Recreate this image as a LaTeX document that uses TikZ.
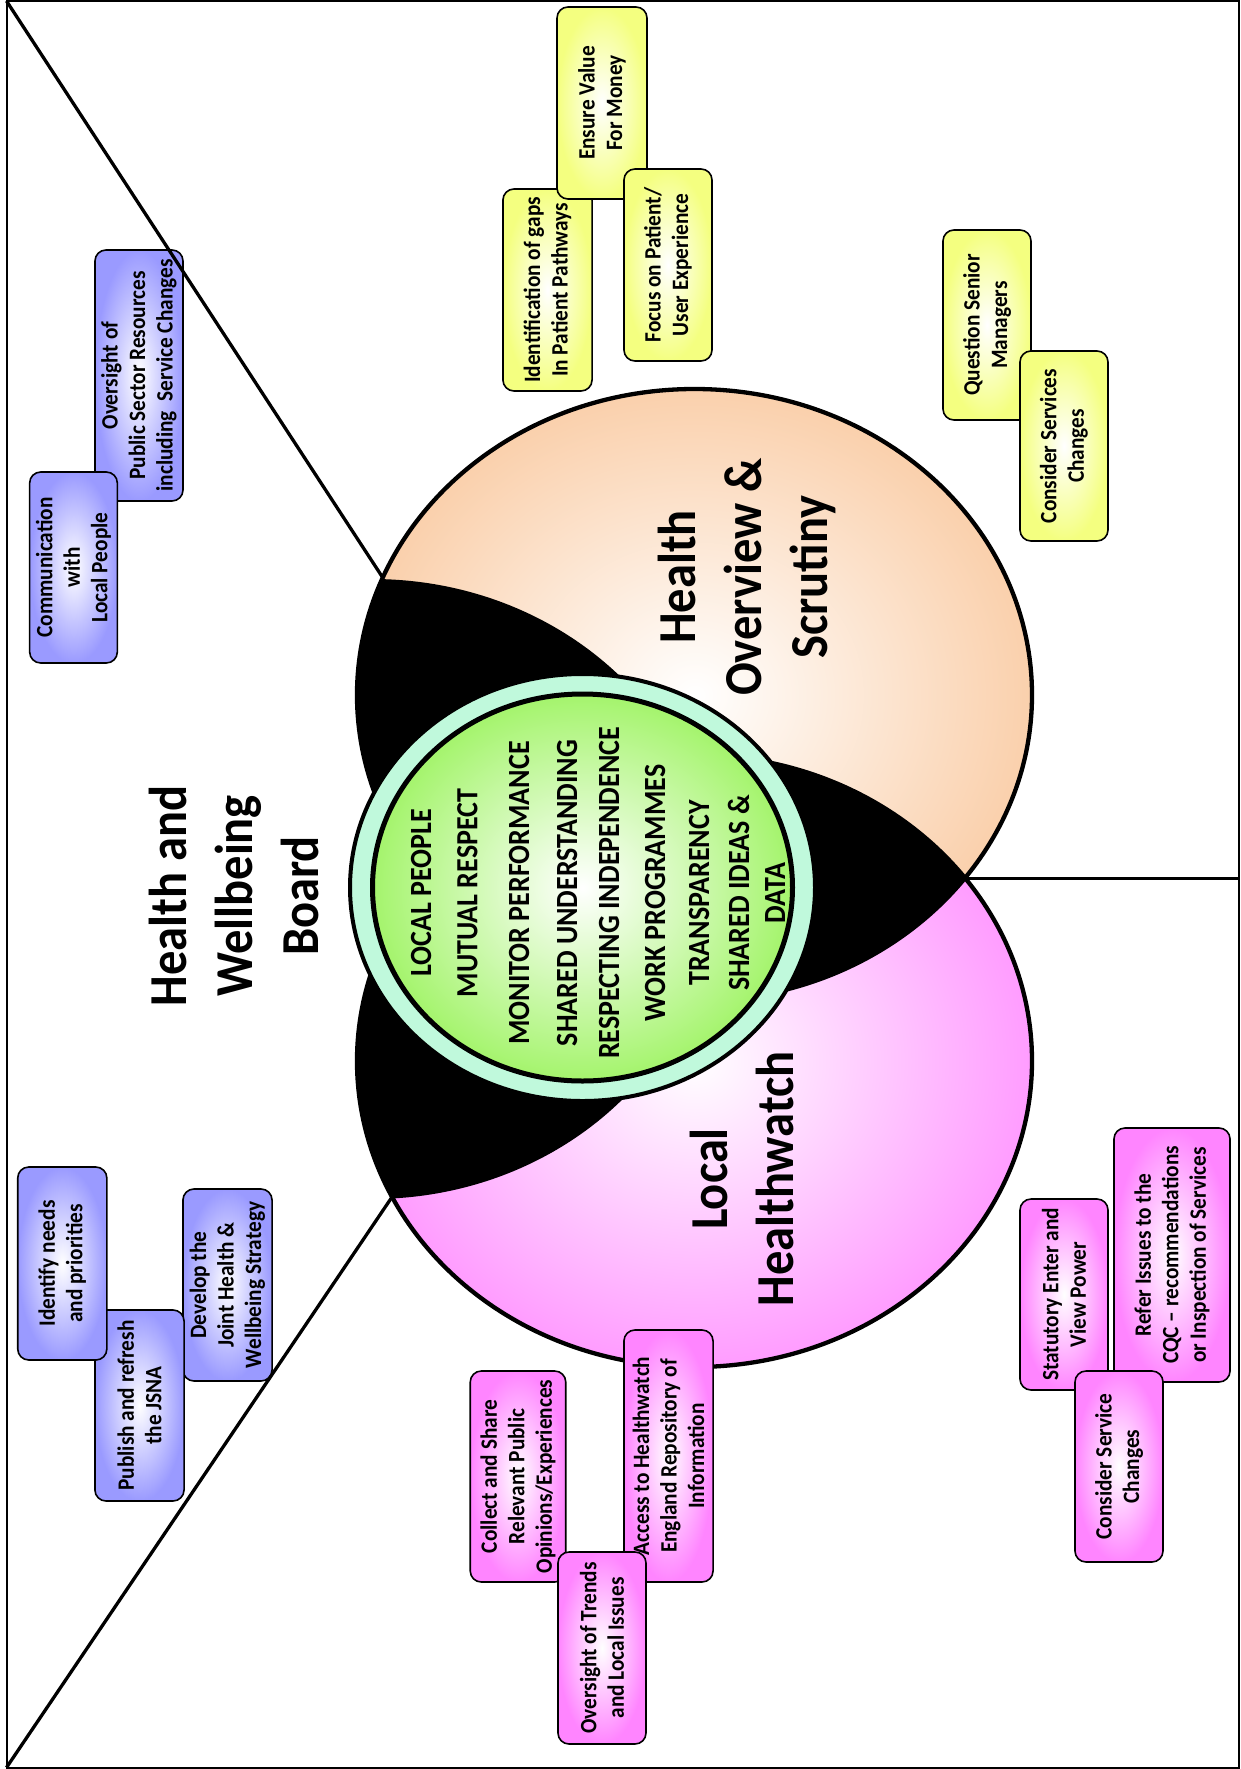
\documentclass[tikz,border=0pt]{standalone}
\usepackage{fontspec}
\setmainfont{Carlito}
\definecolor{peach}{HTML}{FAD0AC}
\definecolor{pinkc}{HTML}{FF9CFF}
\definecolor{mint}{HTML}{C0F9DC}
\definecolor{greenc}{HTML}{A4F46C}
\definecolor{bluebox}{HTML}{9A9AFF}
\definecolor{yellowbox}{HTML}{F4FF80}
\definecolor{pinkbox}{HTML}{FF85FF}
\begin{document}
\begin{tikzpicture}[x=1pt,y=-1pt,
  rot/.style={rotate=90, yscale=1.1, transform shape},
  box/.style={rot, draw=black, line width=1.6pt, rounded corners=11pt, align=center, inner sep=0pt, font=\bfseries\fontsize{21.3}{25}\selectfont},
  bbox/.style={box, inner color=white, outer color=bluebox},
  ybox/.style={box, inner color=white, outer color=yellowbox},
  pbox/.style={box, inner color=white, outer color=pinkbox},
  title/.style={rot, align=center, inner sep=0pt, font=\bfseries\fontsize{48.5}{60}\selectfont},
  coretext/.style={rot, align=center, inner sep=0pt, font=\bfseries\fontsize{28}{41.2}\selectfont},
  ell/.style={x radius=337.5pt, y radius=306pt},
  thick line/.style={line width=3.3pt}
]
\useasboundingbox (0,0) rectangle (1241,1769);
\fill[white] (0,0) rectangle (1241,1769);
% centres and junctions
\coordinate (hosc) at (694.5,695);
\coordinate (lhc) at (694.5,1061);
\coordinate (hwbc) at (372,889);
\coordinate (corec) at (582.5,887.5);
\coordinate (tl) at (6.5,1);
\coordinate (fbr) at (1238.5,1767.5);
\coordinate (bl) at (6.5,1767.5);
\coordinate (tj) at (383,578);
\coordinate (bj) at (392,1197);
\coordinate (rj) at (965,878);
\coordinate (re) at (1238.5,878);
% big circles
\shade[inner color=white, outer color=peach] (hosc) ellipse [ell];
\shade[inner color=white, outer color=pinkc] (lhc) ellipse [ell];
\begin{scope}
  \clip (hwbc) ellipse [x radius=341pt, y radius=310pt];
  \fill[black] (hosc) ellipse [ell] (lhc) ellipse [ell];
\end{scope}
\begin{scope}
  \clip (hosc) ellipse [ell];
  \fill[black] (lhc) ellipse [ell];
\end{scope}
\draw[line width=4.3pt] (hosc) ellipse [ell];
\draw[line width=4.3pt] (lhc) ellipse [ell];
% core circle
\filldraw[fill=mint, line width=4pt] (corec) ellipse [x radius=232.5pt, y radius=213.5pt];
\shadedraw[inner color=white, outer color=greenc, line width=5pt] (corec) ellipse [x radius=210pt, y radius=193.5pt];
% titles
\node[title] (hwb) at (234.3,896) {Health and\\Wellbeing\\Board};
\node[title] (hos) at (746.5,577) {Health\\Overview \&\\Scrutiny};
\node[title] (lhw) at (741.6,1179) {Local\\Healthwatch};
\node[coretext] (core) at (598,893) {LOCAL PEOPLE\\[0.8pt]MUTUAL RESPECT\\[6pt]MONITOR PERFORMANCE\\[2.4pt]SHARED UNDERSTANDING\\[-3pt]RESPECTING INDEPENDENCE\\[0.6pt]WORK PROGRAMMES\\[-1.2pt]TRANSPARENCY\\[-4.8pt]SHARED IDEAS \&\\[-8.6pt]DATA};
% boxes
\node[bbox, minimum width=251pt, minimum height=80pt] (overs) at (139,375.5) {Oversight of\\Public Sector Resources\\including\ \ Service Changes};
\node[bbox, minimum width=191pt, minimum height=79.7pt] (comm) at (73.5,567.5) {Communication\\with\\Local People};
\node[ybox, minimum width=202pt, minimum height=81pt] (gaps) at (547.5,290) {Identification of gaps\\In Patient Pathways};
\node[ybox, minimum width=192pt, minimum height=81.8pt] (value) at (602,103) {Ensure Value\\For Money};
\node[ybox, minimum width=192pt, minimum height=80pt] (focus) at (668,265) {Focus on Patient/\\User Experience};
\node[ybox, minimum width=190pt, minimum height=80pt] (question) at (987,325) {Question Senior\\Managers};
\node[ybox, minimum width=190pt, minimum height=80pt] (conss) at (1064,446) {Consider Services\\Changes};
\node[bbox, minimum width=192pt, minimum height=81pt] (develop) at (227.5,1285) {Develop the\\Joint Health \&\\Wellbeing Strategy};
\node[bbox, minimum width=191pt, minimum height=81pt] (publish) at (139.5,1405.5) {Publish and refresh\\the JSNA};
\node[bbox, minimum width=193pt, minimum height=81pt] (identify) at (62.3,1263.5) {Identify needs\\and priorities};
\node[pbox, minimum width=211pt, minimum height=86.8pt] (collect) at (518,1476.5) {Collect and Share\\Relevant Public\\Opinions/Experiences};
\node[pbox, minimum width=252pt, minimum height=81pt] (access) at (668.5,1456) {Access to Healthwatch\\England Repository of\\Information};
\node[pbox, minimum width=192pt, minimum height=80pt] (trends) at (602,1648) {Oversight of Trends\\and Local Issues};
\node[pbox, minimum width=191pt, minimum height=80pt] (statutory) at (1064,1294.5) {Statutory Enter and\\View Power};
\node[pbox, minimum width=254pt, minimum height=105.5pt] (refer) at (1172,1255) {Refer Issues to the\\CQC – recommendations\\or Inspection of Services};
\node[pbox, minimum width=191pt, minimum height=80pt] (conssc) at (1119,1466.5) {Consider Service\\Changes};
% lines
\draw[thick line] (tl) -- (tj);
\draw[thick line] (bl) -- (bj);
\draw[line width=3pt] (rj) -- (re);
\draw[line width=2pt] (tl) rectangle (fbr);
\end{tikzpicture}
\end{document}
